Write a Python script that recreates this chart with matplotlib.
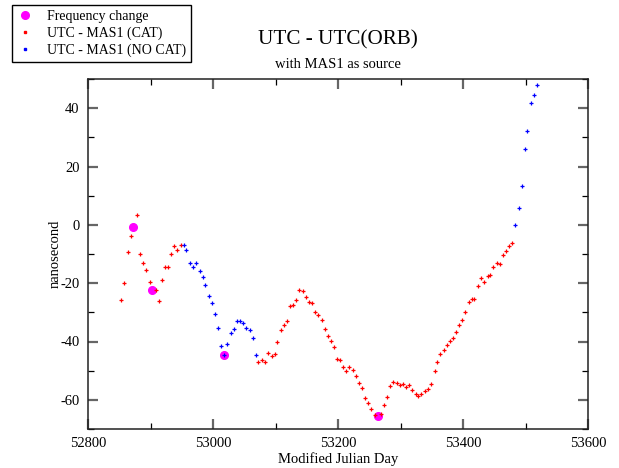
import matplotlib
matplotlib.use("Agg")
import matplotlib.pyplot as plt
from matplotlib.ticker import MultipleLocator
from matplotlib.lines import Line2D

plt.rcParams['font.family'] = ['Liberation Serif', 'DejaVu Serif']
plt.rcParams['axes.unicode_minus'] = False

# Frequency change events
freq_mjd = [52872.5, 52902.9, 53017.6, 53264.0]
freq_val = [-0.8, -22.5, -44.5, -65.4]

# UTC - MAS1 (CAT)
cat_mjd = [52853.3, 52858.1, 52863.5, 52868.8, 52877.9, 52883.2, 52888.5, 52893.3,
           52898.7, 52908.3, 52913.1, 52918.4, 52923.7, 52927.5, 52932.8, 52938.1,
           52942.9, 52948.3,
           53072.5, 53078.4, 53083.2, 53088.5, 53093.9, 53099.2, 53102.9, 53108.3,
           53113.6, 53118.9, 53123.7, 53127.5, 53133.3, 53138.1, 53144.0, 53148.8,
           53154.1, 53157.9, 53163.2, 53168.5, 53173.9, 53178.7, 53184.0, 53188.3,
           53193.6, 53198.4, 53203.7, 53208.5, 53212.8, 53218.1, 53223.5, 53228.8,
           53234.1, 53238.9, 53243.2, 53248.5, 53253.3, 53258.7, 53269.3, 53273.1,
           53278.4, 53283.7, 53288.5, 53293.9, 53299.2, 53303.5, 53308.8, 53313.6,
           53318.9, 53324.3, 53328.5, 53333.3, 53338.7, 53344.0, 53349.3, 53354.7,
           53358.4, 53363.7, 53369.1, 53373.9, 53379.2, 53384.5, 53388.8, 53393.6,
           53398.9, 53403.7, 53409.6, 53413.9, 53418.1, 53424.0, 53428.8, 53434.1,
           53439.5, 53443.2, 53448.5, 53453.9, 53459.2, 53464.5, 53469.3, 53473.6,
           53478.4]
cat_val = [-25.8, -20.0, -9.2, -3.7, 3.4, -10.1, -13.2, -15.5,
           -19.7, -22.5, -26.1, -18.9, -14.3, -14.3, -10.1, -7.3,
           -8.7, -7.0,
           -46.9, -46.5, -46.9, -43.8, -45.0, -44.4, -40.1, -35.9,
           -34.5, -32.8, -27.8, -27.5, -25.6, -22.5, -22.8, -24.7,
           -26.4, -26.9, -29.9, -31.0, -32.6, -35.7, -38.2, -39.7,
           -41.9, -46.0, -46.3, -48.6, -50.0, -48.9, -49.8, -51.7,
           -54.1, -56.0, -59.3, -61.0, -63.0, -65.1, -65.0, -61.6,
           -59.1, -55.4, -53.9, -54.1, -54.8, -54.5, -55.6, -54.9,
           -56.5, -57.9, -58.7, -57.9, -57.0, -56.2, -54.5, -50.0,
           -46.9, -44.4, -43.0, -41.3, -39.7, -38.8, -36.6, -34.5,
           -32.6, -30.0, -26.4, -25.5, -25.4, -21.1, -18.2, -19.6,
           -17.7, -17.3, -14.3, -13.2, -13.4, -10.4, -9.1, -7.3,
           -6.1]

# UTC - MAS1 (NO CAT)
nocat_mjd = [52954.1, 52957.3, 52962.7, 52968.5, 52973.3, 52978.7, 52984.0, 52987.7,
             52993.1, 52998.4, 53003.7, 53008.5, 53012.8, 53017.6, 53022.9, 53028.3,
             53033.6, 53038.9, 53042.7, 53048.0, 53053.3, 53058.7, 53063.5, 53068.8,
             53483.7, 53489.1, 53494.4, 53499.7, 53502.9, 53508.8, 53514.1, 53518.9]
nocat_val = [-7.0, -8.7, -13.2, -14.6, -13.2, -15.9, -18.0, -20.7,
             -24.4, -26.9, -30.6, -35.2, -41.7, -44.5, -40.7, -37.1,
             -35.7, -33.0, -33.0, -33.7, -35.3, -35.9, -38.8, -44.6,
             -0.2, 5.7, 13.3, 26.1, 32.1, 41.9, 44.5, 47.8]

fig = plt.figure(figsize=(6.19, 4.68), dpi=100)
ax = fig.add_axes([88 / 619, 1 - 429 / 468, 500 / 619, 350 / 468])

ax.plot(freq_mjd, freq_val, 'o', color='#ff00ff', ms=5.5, mec='#ff00ff', zorder=2)
ax.plot(cat_mjd, cat_val, '+', color='#ff0000', ms=3, mew=0.9, zorder=3)
ax.plot(nocat_mjd, nocat_val, '+', color='#0000ff', ms=3, mew=0.9, zorder=3)

ax.set_xlim(52800, 53600)
ax.set_ylim(-70, 50)
ax.xaxis.set_major_locator(MultipleLocator(200))
ax.xaxis.set_minor_locator(MultipleLocator(100))
ax.yaxis.set_major_locator(MultipleLocator(20))
ax.yaxis.set_minor_locator(MultipleLocator(10))
ax.tick_params(which='both', direction='in', top=True, right=True, labelsize=10.5)
ax.tick_params(which='major', length=7, width=1.6, color='#666666', pad=6)
ax.tick_params(which='minor', length=4, width=0.9, color='black')
for s in ax.spines.values():
    s.set_linewidth(1.1)
    s.set_color('#222222')

ax.set_xlabel('Modified Julian Day', fontsize=10.5, labelpad=1)
ax.set_ylabel('nanosecond', fontsize=10.5)
ax.yaxis.set_label_coords((62 - 88) / 500, 0.5)

fig.text(338 / 619, 1 - 40 / 468, 'UTC - UTC(ORB)', ha='center', va='center', fontsize=15.2)
fig.text(338 / 619, 1 - 65 / 468, 'with MAS1 as source', ha='center', va='center', fontsize=10.5)

handles = [
    Line2D([], [], ls='none', marker='o', color='#ff00ff', ms=5.5),
    Line2D([], [], ls='none', marker='s', color='#ff0000', ms=1.5),
    Line2D([], [], ls='none', marker='s', color='#0000ff', ms=1.5),
]
labels = ['Frequency change', 'UTC - MAS1 (CAT)', 'UTC - MAS1 (NO CAT)']
leg = fig.legend(handles, labels, loc='upper left', bbox_to_anchor=(12 / 619, 1 - 5 / 468),
                 frameon=True, fancybox=False, edgecolor='black', framealpha=1,
                 fontsize=10, borderaxespad=0, handlelength=1.2, handletextpad=1.0,
                 labelspacing=0.25, borderpad=0.35, numpoints=1)
leg.get_frame().set_linewidth(1.0)

fig.savefig('out.png', dpi=100)
